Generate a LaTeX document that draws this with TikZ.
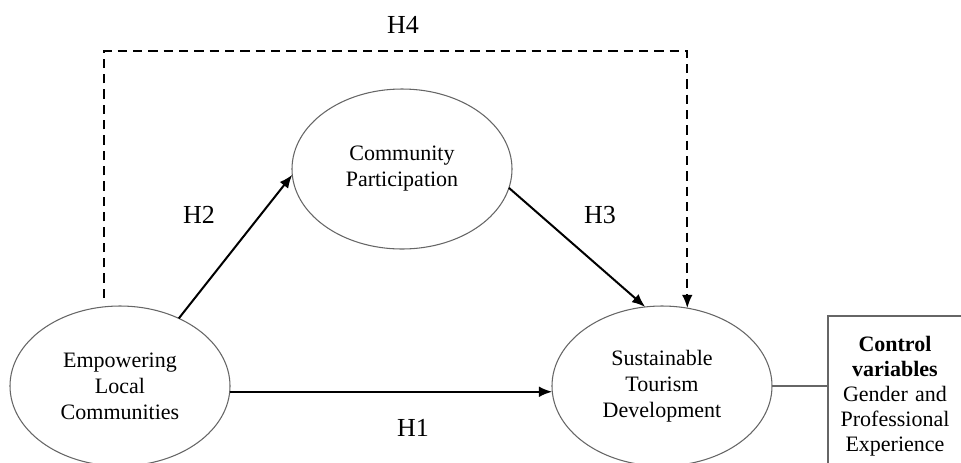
\documentclass[tikz,border=0pt]{standalone}
\usepackage{fontspec}
\setmainfont{Liberation Serif}
\usetikzlibrary{arrows.meta,shapes.geometric}

\tikzset{
  construct/.style={draw=black!60, line width=0.8pt, ellipse, minimum width=165pt, minimum height=120pt,
    inner sep=0pt, outer sep=0pt, align=center, font=\fontsize{16.5}{19.5}\selectfont},
  hyparrow/.style={line width=1.5pt, -{Latex[length=10pt,width=8pt]}},
  hypdashed/.style={hyparrow, dash pattern=on 7pt off 4.5pt},
  hyplabel/.style={font=\fontsize{19.5}{22}\selectfont},
  ctrltext/.style={text width=104pt, inner sep=0pt, align=center, font=\fontsize{16.5}{18.75}\selectfont},
  thinline/.style={draw=black!60, line width=0.8pt}
}

\begin{document}
\begin{tikzpicture}[x=0.75pt,y=-0.75pt]
\useasboundingbox (0,0) rectangle (961,462);
%Constructs
\node[construct] (elc) at (120,386) {Empowering\\Local\\Communities};
\node[construct] (cp) at (402,169) {Community\\Participation};
\node[construct] (std) at (662,386) {Sustainable\\Tourism\\Development};
%Control variables box
\coordinate (boxnw) at (828,316);
\node[ctrltext] (ctrl) at (895,396) {\textbf{Control}\\\textbf{variables}\\Gender and\\Professional\\Experience};
\draw[thinline] (990,316) -- (boxnw) -- (828,490);
%Hypotheses
\draw[hyparrow] (elc.49.5) -- (cp.183);
\draw[hyparrow] (cp.-10) -- (std.102);
\draw[hyparrow] (elc.-3) -- (std.183);
\coordinate (h4start) at (104,298);
\coordinate (h4top) at (400,51);
\draw[hypdashed] (h4start) |- (h4top) -| (std.72);
\draw[thinline] (std.east) -- (std.east -| boxnw);
%Labels
\node[hyplabel] (h1) at (413,428) {H1};
\node[hyplabel] (h2) at (199,215) {H2};
\node[hyplabel] (h3) at (600,215) {H3};
\node[hyplabel] (h4) at (403,25) {H4};
\end{tikzpicture}
\end{document}
